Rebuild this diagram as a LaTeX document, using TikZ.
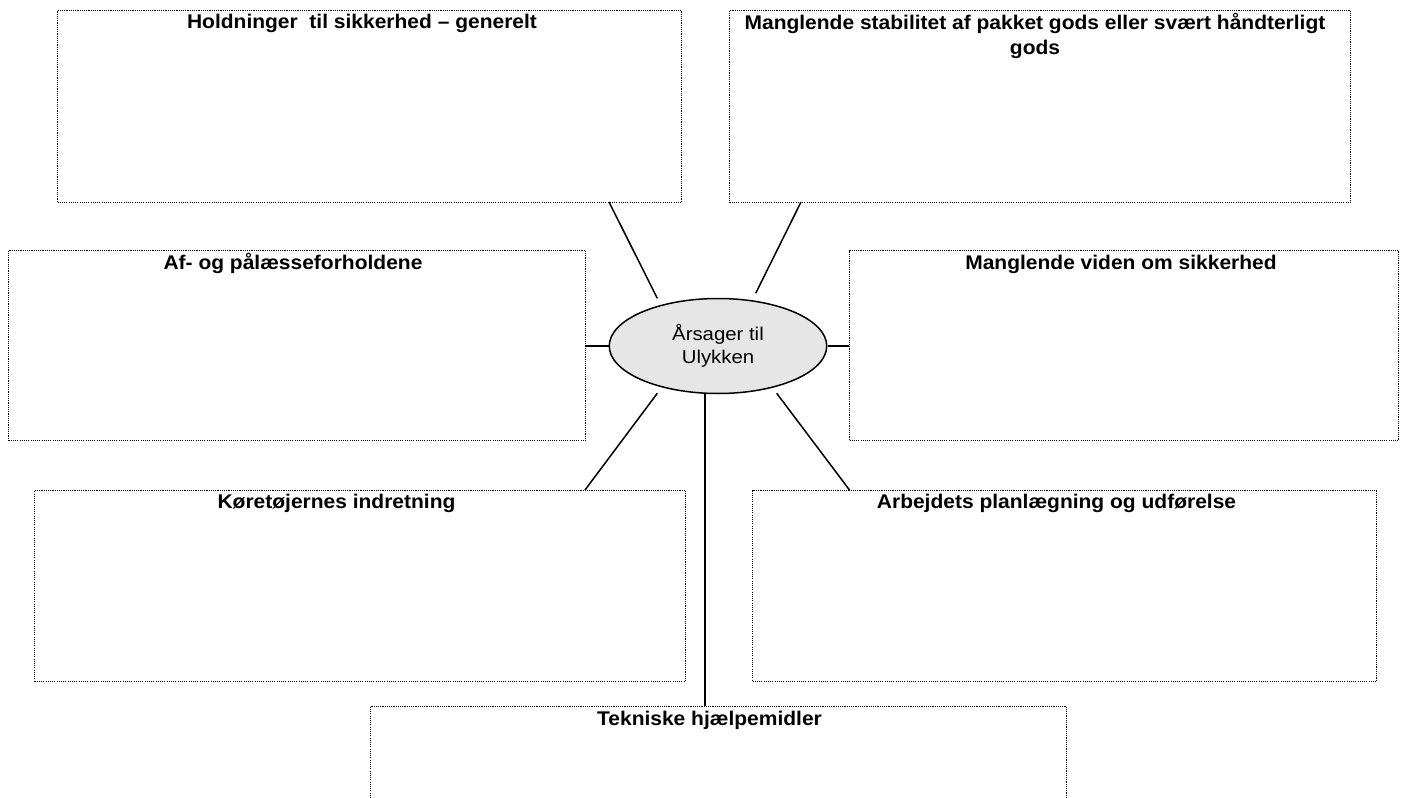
\documentclass[tikz,border=0pt]{standalone}
\usepackage{fontspec}
\usepackage{tikz}
\usetikzlibrary{shapes.geometric}
\newfontfamily\tfont[FakeStretch=1.06]{Liberation Sans}
\newfontfamily\efont[FakeStretch=1.1]{Liberation Sans}
\definecolor{ellfill}{HTML}{E6E6E6}
\tikzset{
  boxframe/.style={draw=black, line width=1pt, dash pattern=on 1.1pt off 1.1pt, inner sep=0pt, anchor=north west},
  ttl/.style={font=\tfont\bfseries\fontsize{19.8}{25}\selectfont, inner sep=0pt, anchor=base, align=center},
  conn/.style={draw=black, line width=1.5pt},
}
\begin{document}
\begin{tikzpicture}[x=1pt,y=-1pt]
\useasboundingbox (0,0) rectangle (1406,798);
\clip (0,0) rectangle (1406,798);
% boxes
\node[boxframe, minimum width=624pt, minimum height=192pt] (hold) at (57,10) {};
\node[boxframe, minimum width=621pt, minimum height=192pt] (stab) at (729,10) {};
\node[boxframe, minimum width=577pt, minimum height=190pt] (afpa) at (8,250) {};
\node[boxframe, minimum width=549pt, minimum height=190pt] (vide) at (849,250) {};
\node[boxframe, minimum width=651pt, minimum height=191pt] (kore) at (34,490) {};
\node[boxframe, minimum width=624pt, minimum height=191pt] (arbe) at (752,490) {};
\node[boxframe, minimum width=696pt, minimum height=150pt] (tekn) at (370,706) {};
% titles
\node[ttl] (t1) at (362,28.5) {Holdninger\ \ til sikkerhed – generelt};
\node[ttl, anchor=north] (t2) at (1035,13) {Manglende stabilitet af pakket gods eller svært håndterligt\\gods};
\node[ttl] (t3) at (293,269.3) {Af- og pålæsseforholdene};
\node[ttl] (t4) at (1121,269.3) {Manglende viden om sikkerhed};
\node[ttl] (t5) at (336.5,508.7) {Køretøjernes indretning};
\node[ttl] (t6) at (1056.5,508.7) {Arbejdets planlægning og udførelse};
\node[ttl] (t7) at (709.5,725.3) {Tekniske hjælpemidler};
% centre ellipse
\node[ellipse, draw=black, line width=1.5pt, fill=ellfill, minimum width=217.5pt, minimum height=95pt, inner sep=0pt,
      font=\efont\fontsize{18.5}{23.4}\selectfont, align=center] (ell) at (718,346) {Årsager til\\Ulykken};
% connector end points
\coordinate (a1) at (609,202);
\coordinate (a2) at (657.3,298.3);
\coordinate (b1) at (801,202);
\coordinate (b2) at (755.7,293.3);
\coordinate (c1) at (585,346);
\coordinate (d1) at (849,346);
\coordinate (e1) at (657.3,393.3);
\coordinate (e2) at (585,490);
\coordinate (f1) at (776.7,393.3);
\coordinate (f2) at (849.5,490);
\coordinate (g1) at (705,393.5);
\coordinate (g2) at (705,706);
% connectors
\draw[conn] (a1) -- (a2);
\draw[conn] (b1) -- (b2);
\draw[conn] (c1) -- (ell.west);
\draw[conn] (ell.east) -- (d1);
\draw[conn] (e1) -- (e2);
\draw[conn] (f1) -- (f2);
\draw[conn] (g1) -- (g2);
\end{tikzpicture}
\end{document}
